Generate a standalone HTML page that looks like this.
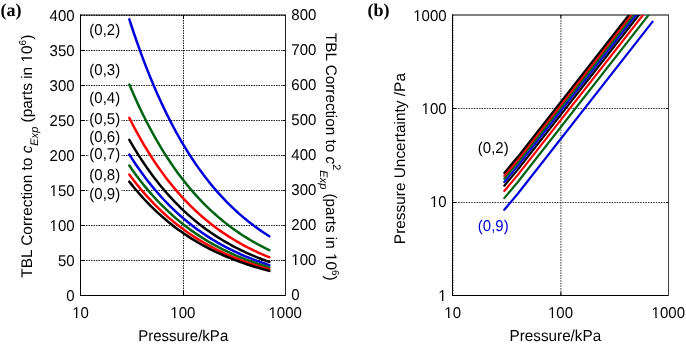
<!DOCTYPE html><html><head><meta charset="utf-8"><style>html,body{margin:0;padding:0;background:#fff;}svg{display:block;will-change:transform;}text{font-family:"Liberation Sans", sans-serif;text-rendering:geometricPrecision;}</style></head><body>
<svg width="686" height="346" viewBox="0 0 686 346">
<rect width="686" height="346" fill="#fff"/>
<path d="M81 260.50H285M81 225.50H285M81 190.50H285M81 155.50H285M81 120.50H285M81 85.50H285M81 50.50H285M81 15.50H285M183.5 15.00V295.00" stroke="#222" stroke-width="1" stroke-dasharray="1.5 1" fill="none"/>
<path d="M80.5 14.5V296M80 295.5H286M80 15H286" fill="none" stroke="#000" stroke-width="1"/>
<path d="M285.5 15V296" fill="none" stroke="#222" stroke-width="1"/>
<path d="M81 260.50h4M285 260.50h-2M81 225.50h4M285 225.50h-2M81 190.50h4M285 190.50h-2M81 155.50h4M285 155.50h-2M81 120.50h4M285 120.50h-2M81 85.50h4M285 85.50h-2M81 50.50h4M285 50.50h-2M183.5 295v-4M183.5 15v4" stroke="#000" stroke-width="1" fill="none"/>
<polyline points="129.33,19.34 131.67,26.51 134.00,33.48 136.33,40.27 138.67,46.89 141.00,53.32 143.33,59.59 145.67,65.70 148.00,71.64 150.34,77.42 152.67,83.05 155.00,88.54 157.34,93.88 159.67,99.08 162.00,104.14 164.34,109.06 166.67,113.86 169.00,118.53 171.34,123.08 173.67,127.51 176.00,131.82 178.34,136.01 180.67,140.10 183.00,144.08 185.34,147.95 187.67,151.72 190.01,155.39 192.34,158.97 194.67,162.45 197.01,165.84 199.34,169.13 201.67,172.35 204.01,175.47 206.34,178.52 208.67,181.48 211.01,184.37 213.34,187.18 215.67,189.91 218.01,192.58 220.34,195.17 222.67,197.69 225.01,200.15 227.34,202.54 229.68,204.87 232.01,207.14 234.34,209.35 236.68,211.50 239.01,213.60 241.34,215.63 243.68,217.62 246.01,219.55 248.34,221.43 250.68,223.26 253.01,225.05 255.34,226.78 257.68,228.47 260.01,230.12 262.35,231.72 264.68,233.28 267.01,234.80 269.35,236.28" fill="none" stroke="#0000dc" stroke-width="2.5" stroke-linejoin="round" stroke-linecap="round"/>
<polyline points="129.33,84.58 131.67,90.05 134.00,95.37 136.33,100.56 138.67,105.61 141.00,110.52 143.33,115.31 145.67,119.96 148.00,124.50 150.34,128.92 152.67,133.22 155.00,137.40 157.34,141.48 159.67,145.44 162.00,149.31 164.34,153.07 166.67,156.73 169.00,160.30 171.34,163.77 173.67,167.15 176.00,170.44 178.34,173.64 180.67,176.76 183.00,179.80 185.34,182.75 187.67,185.63 190.01,188.43 192.34,191.16 194.67,193.82 197.01,196.40 199.34,198.92 201.67,201.37 204.01,203.76 206.34,206.08 208.67,208.35 211.01,210.55 213.34,212.70 215.67,214.78 218.01,216.82 220.34,218.80 222.67,220.72 225.01,222.60 227.34,224.43 229.68,226.20 232.01,227.94 234.34,229.62 236.68,231.26 239.01,232.86 241.34,234.42 243.68,235.93 246.01,237.41 248.34,238.84 250.68,240.24 253.01,241.60 255.34,242.93 257.68,244.22 260.01,245.47 262.35,246.70 264.68,247.89 267.01,249.05 269.35,250.18" fill="none" stroke="#006414" stroke-width="2.5" stroke-linejoin="round" stroke-linecap="round"/>
<polyline points="129.33,117.90 131.67,122.50 134.00,126.99 136.33,131.35 138.67,135.60 141.00,139.73 143.33,143.76 145.67,147.68 148.00,151.50 150.34,155.22 152.67,158.83 155.00,162.36 157.34,165.79 159.67,169.13 162.00,172.38 164.34,175.54 166.67,178.63 169.00,181.63 171.34,184.55 173.67,187.39 176.00,190.16 178.34,192.86 180.67,195.48 183.00,198.04 185.34,200.53 187.67,202.95 190.01,205.31 192.34,207.60 194.67,209.84 197.01,212.02 199.34,214.14 201.67,216.20 204.01,218.21 206.34,220.16 208.67,222.07 211.01,223.92 213.34,225.73 215.67,227.49 218.01,229.20 220.34,230.86 222.67,232.48 225.01,234.06 227.34,235.60 229.68,237.10 232.01,238.56 234.34,239.97 236.68,241.36 239.01,242.70 241.34,244.01 243.68,245.29 246.01,246.53 248.34,247.74 250.68,248.91 253.01,250.06 255.34,251.17 257.68,252.26 260.01,253.32 262.35,254.35 264.68,255.35 267.01,256.32 269.35,257.27" fill="none" stroke="#ff0000" stroke-width="2.5" stroke-linejoin="round" stroke-linecap="round"/>
<polyline points="129.33,139.81 131.67,143.84 134.00,147.77 136.33,151.60 138.67,155.32 141.00,158.94 143.33,162.47 145.67,165.91 148.00,169.25 150.34,172.51 152.67,175.68 155.00,178.77 157.34,181.77 159.67,184.70 162.00,187.55 164.34,190.32 166.67,193.02 169.00,195.65 171.34,198.21 173.67,200.70 176.00,203.13 178.34,205.49 180.67,207.79 183.00,210.03 185.34,212.21 187.67,214.34 190.01,216.40 192.34,218.42 194.67,220.38 197.01,222.28 199.34,224.14 201.67,225.95 204.01,227.71 206.34,229.42 208.67,231.09 211.01,232.72 213.34,234.30 215.67,235.84 218.01,237.34 220.34,238.80 222.67,240.22 225.01,241.60 227.34,242.95 229.68,244.26 232.01,245.54 234.34,246.78 236.68,247.99 239.01,249.17 241.34,250.32 243.68,251.44 246.01,252.52 248.34,253.58 250.68,254.61 253.01,255.62 255.34,256.59 257.68,257.55 260.01,258.47 262.35,259.37 264.68,260.25 267.01,261.11 269.35,261.94" fill="none" stroke="#000000" stroke-width="2.5" stroke-linejoin="round" stroke-linecap="round"/>
<polyline points="129.33,154.51 131.67,158.16 134.00,161.72 136.33,165.18 138.67,168.55 141.00,171.83 143.33,175.02 145.67,178.14 148.00,181.16 150.34,184.11 152.67,186.98 155.00,189.78 157.34,192.50 159.67,195.15 162.00,197.73 164.34,200.24 166.67,202.68 169.00,205.06 171.34,207.38 173.67,209.64 176.00,211.83 178.34,213.97 180.67,216.05 183.00,218.08 185.34,220.06 187.67,221.98 190.01,223.85 192.34,225.67 194.67,227.44 197.01,229.17 199.34,230.85 201.67,232.49 204.01,234.08 206.34,235.63 208.67,237.15 211.01,238.62 213.34,240.05 215.67,241.44 218.01,242.80 220.34,244.12 222.67,245.41 225.01,246.66 227.34,247.88 229.68,249.07 232.01,250.22 234.34,251.35 236.68,252.45 239.01,253.51 241.34,254.55 243.68,255.56 246.01,256.55 248.34,257.51 250.68,258.44 253.01,259.35 255.34,260.23 257.68,261.09 260.01,261.93 262.35,262.75 264.68,263.54 267.01,264.32 269.35,265.07" fill="none" stroke="#0000dc" stroke-width="2.5" stroke-linejoin="round" stroke-linecap="round"/>
<polyline points="129.33,165.57 131.67,168.93 134.00,172.21 136.33,175.40 138.67,178.50 141.00,181.53 143.33,184.47 145.67,187.34 148.00,190.13 150.34,192.84 152.67,195.49 155.00,198.06 157.34,200.57 159.67,203.01 162.00,205.38 164.34,207.70 166.67,209.95 169.00,212.14 171.34,214.28 173.67,216.36 176.00,218.38 178.34,220.35 180.67,222.27 183.00,224.14 185.34,225.96 187.67,227.73 190.01,229.45 192.34,231.13 194.67,232.76 197.01,234.35 199.34,235.90 201.67,237.41 204.01,238.88 206.34,240.31 208.67,241.70 211.01,243.05 213.34,244.37 215.67,245.66 218.01,246.91 220.34,248.13 222.67,249.31 225.01,250.47 227.34,251.59 229.68,252.68 232.01,253.75 234.34,254.79 236.68,255.80 239.01,256.78 241.34,257.74 243.68,258.67 246.01,259.57 248.34,260.46 250.68,261.32 253.01,262.15 255.34,262.97 257.68,263.76 260.01,264.54 262.35,265.29 264.68,266.02 267.01,266.73 269.35,267.43" fill="none" stroke="#006414" stroke-width="2.5" stroke-linejoin="round" stroke-linecap="round"/>
<polyline points="129.33,174.60 131.67,177.73 134.00,180.78 136.33,183.74 138.67,186.63 141.00,189.44 143.33,192.18 145.67,194.85 148.00,197.44 150.34,199.97 152.67,202.43 155.00,204.82 157.34,207.16 159.67,209.43 162.00,211.64 164.34,213.79 166.67,215.88 169.00,217.92 171.34,219.91 173.67,221.84 176.00,223.73 178.34,225.56 180.67,227.34 183.00,229.08 185.34,230.77 187.67,232.42 190.01,234.02 192.34,235.58 194.67,237.10 197.01,238.58 199.34,240.03 201.67,241.43 204.01,242.79 206.34,244.12 208.67,245.42 211.01,246.68 213.34,247.91 215.67,249.10 218.01,250.26 220.34,251.40 222.67,252.50 225.01,253.57 227.34,254.62 229.68,255.64 232.01,256.63 234.34,257.59 236.68,258.53 239.01,259.44 241.34,260.34 243.68,261.20 246.01,262.05 248.34,262.87 250.68,263.67 253.01,264.45 255.34,265.20 257.68,265.94 260.01,266.66 262.35,267.36 264.68,268.04 267.01,268.71 269.35,269.35" fill="none" stroke="#ff0000" stroke-width="2.5" stroke-linejoin="round" stroke-linecap="round"/>
<polyline points="129.33,181.67 131.67,184.62 134.00,187.48 136.33,190.28 138.67,192.99 141.00,195.64 143.33,198.22 145.67,200.73 148.00,203.17 150.34,205.55 152.67,207.86 155.00,210.12 157.34,212.31 159.67,214.45 162.00,216.53 164.34,218.56 166.67,220.53 169.00,222.45 171.34,224.32 173.67,226.14 176.00,227.91 178.34,229.64 180.67,231.32 183.00,232.95 185.34,234.54 187.67,236.09 190.01,237.60 192.34,239.07 194.67,240.50 197.01,241.90 199.34,243.25 201.67,244.57 204.01,245.86 206.34,247.11 208.67,248.33 211.01,249.52 213.34,250.67 215.67,251.80 218.01,252.89 220.34,253.96 222.67,255.00 225.01,256.01 227.34,256.99 229.68,257.95 232.01,258.88 234.34,259.79 236.68,260.67 239.01,261.53 241.34,262.37 243.68,263.19 246.01,263.98 248.34,264.75 250.68,265.51 253.01,266.24 255.34,266.95 257.68,267.65 260.01,268.33 262.35,268.98 264.68,269.63 267.01,270.25 269.35,270.86" fill="none" stroke="#000000" stroke-width="2.5" stroke-linejoin="round" stroke-linecap="round"/>
<path d="M453 202.5H668M453 108.5H668M560.9 15V295" stroke="#333" stroke-width="1" stroke-dasharray="1.5 1.1" fill="none"/>
<path d="M453.5 15V295" fill="none" stroke="#999" stroke-width="1" stroke-dasharray="1 1.5"/>
<path d="M452.5 14.5V296M452 295.5H669M452 15H669" fill="none" stroke="#000" stroke-width="1"/>
<path d="M668.5 15V296" fill="none" stroke="#444" stroke-width="1"/>
<path d="M453 202.5h3M668 202.5h-2M453 108.5h3M668 108.5h-2M560.9 295v-3M560.9 15v3" stroke="#000" stroke-width="1" fill="none"/>
<clipPath id="cb"><rect x="452.70" y="15.00" width="215.60" height="280.00"/></clipPath>
<g clip-path="url(#cb)" stroke-width="2.2" fill="none" stroke-linecap="round">
<polyline points="504.30,209.80 517.60,193.96 652.60,21.57" stroke="#0000dc" stroke-linejoin="round"/>
<polyline points="504.30,198.10 517.60,182.26 652.60,9.87" stroke="#006414" stroke-linejoin="round"/>
<polyline points="504.30,191.00 517.60,175.16 652.60,2.77" stroke="#ff0000" stroke-linejoin="round"/>
<polyline points="504.30,185.70 517.60,169.86 652.60,-2.53" stroke="#000000" stroke-linejoin="round"/>
<polyline points="504.30,182.00 517.60,166.16 652.60,-6.23" stroke="#0000dc" stroke-linejoin="round"/>
<polyline points="504.30,178.70 517.60,162.86 652.60,-9.53" stroke="#006414" stroke-linejoin="round"/>
<polyline points="504.30,175.90 517.60,160.06 652.60,-12.33" stroke="#ff0000" stroke-linejoin="round"/>
<polyline points="504.30,172.90 517.60,157.06 652.60,-15.33" stroke="#000000" stroke-linejoin="round"/>
</g>
<g font-size="15" fill="#000"><text transform="translate(74.60 301.20) scale(1 1.040)" text-anchor="end" >0</text><text transform="translate(74.60 266.20) scale(1 1.040)" text-anchor="end" >50</text><text transform="translate(74.60 231.20) scale(1 1.040)" text-anchor="end" >100</text><text transform="translate(74.60 196.20) scale(1 1.040)" text-anchor="end" >150</text><text transform="translate(74.60 161.20) scale(1 1.040)" text-anchor="end" >200</text><text transform="translate(74.60 126.20) scale(1 1.040)" text-anchor="end" >250</text><text transform="translate(74.60 91.20) scale(1 1.040)" text-anchor="end" >300</text><text transform="translate(74.60 56.20) scale(1 1.040)" text-anchor="end" >350</text><text transform="translate(74.60 21.20) scale(1 1.040)" text-anchor="end" >400</text><text transform="translate(291.30 300.30) scale(1 1.040)" text-anchor="start" >0</text><text transform="translate(291.30 265.30) scale(1 1.040)" text-anchor="start" >100</text><text transform="translate(291.30 230.30) scale(1 1.040)" text-anchor="start" >200</text><text transform="translate(291.30 195.30) scale(1 1.040)" text-anchor="start" >300</text><text transform="translate(291.30 160.30) scale(1 1.040)" text-anchor="start" >400</text><text transform="translate(291.30 125.30) scale(1 1.040)" text-anchor="start" >500</text><text transform="translate(291.30 90.30) scale(1 1.040)" text-anchor="start" >600</text><text transform="translate(291.30 55.30) scale(1 1.040)" text-anchor="start" >700</text><text transform="translate(291.30 20.30) scale(1 1.040)" text-anchor="start" >800</text><text transform="translate(80.50 317.80) scale(1 1.040)" text-anchor="middle" >10</text><text transform="translate(452.70 317.80) scale(1 1.040)" text-anchor="middle" >10</text><text transform="translate(182.85 317.80) scale(1 1.040)" text-anchor="middle" >100</text><text transform="translate(560.50 317.80) scale(1 1.040)" text-anchor="middle" >100</text><text transform="translate(285.20 317.80) scale(1 1.040)" text-anchor="middle" >1000</text><text transform="translate(668.30 317.80) scale(1 1.040)" text-anchor="middle" >1000</text><text transform="translate(183.20 340.80) scale(1 1.040)" text-anchor="middle" >Pressure/kPa</text><text transform="translate(555.35 340.80) scale(1 1.040)" text-anchor="middle" font-size="15.25">Pressure/kPa</text><text transform="translate(446.60 300.80) scale(1 1.040)" text-anchor="end" >1</text><text transform="translate(446.60 207.47) scale(1 1.040)" text-anchor="end" >10</text><text transform="translate(446.60 114.13) scale(1 1.040)" text-anchor="end" >100</text><text transform="translate(446.60 20.80) scale(1 1.040)" text-anchor="end" >1000</text><rect x="88.5" y="23.50" width="33" height="13" fill="#fff"/><text transform="translate(89.30 35.00) scale(1 1.040)" text-anchor="start" >(0,2)</text><rect x="88.5" y="63.30" width="33" height="13" fill="#fff"/><text transform="translate(89.30 74.80) scale(1 1.040)" text-anchor="start" >(0,3)</text><rect x="88.5" y="91.60" width="33" height="13" fill="#fff"/><text transform="translate(89.30 103.10) scale(1 1.040)" text-anchor="start" >(0,4)</text><rect x="88.5" y="112.40" width="33" height="13" fill="#fff"/><text transform="translate(89.30 123.90) scale(1 1.040)" text-anchor="start" >(0,5)</text><rect x="88.5" y="130.50" width="33" height="13" fill="#fff"/><text transform="translate(89.30 142.00) scale(1 1.040)" text-anchor="start" >(0,6)</text><rect x="88.5" y="147.90" width="33" height="13" fill="#fff"/><text transform="translate(89.30 159.40) scale(1 1.040)" text-anchor="start" >(0,7)</text><rect x="88.5" y="168.30" width="33" height="13" fill="#fff"/><text transform="translate(89.30 179.80) scale(1 1.040)" text-anchor="start" >(0,8)</text><rect x="88.5" y="187.90" width="33" height="13" fill="#fff"/><text transform="translate(89.30 199.40) scale(1 1.040)" text-anchor="start" >(0,9)</text><text transform="translate(477.80 153.20) scale(1 1.040)" text-anchor="start" >(0,2)</text><text transform="translate(477.80 231.40) scale(1 1.040)" text-anchor="start" fill="#0000dc">(0,9)</text><text transform="translate(32.1 156.2) rotate(-90)" text-anchor="middle" font-size="15.4">TBL Correction to <tspan font-style="italic">c</tspan><tspan font-style="italic" font-size="11" dy="6.3">Exp</tspan><tspan dy="-6.3"> (parts in 10</tspan><tspan font-size="10" dy="-5.8">6</tspan><tspan dy="5.8">)</tspan></text><text transform="translate(326 156.85) rotate(90)" text-anchor="middle" font-size="15.3">TBL Correction to <tspan font-style="italic">c</tspan><tspan font-size="11" dy="-6.5">2</tspan><tspan font-style="italic" font-size="11" dy="13">Exp</tspan><tspan dy="-6.5"> (parts in 10</tspan><tspan font-size="10" dy="-5.8">6</tspan><tspan dy="5.8">)</tspan></text><text transform="translate(404.5 158.6) rotate(-90)" text-anchor="middle" font-size="15.4">Pressure Uncertainty /Pa</text></g>
<path d="M50.01 229.10H53.27V232.20H50.01ZM54.74 229.10H57.78V232.20H54.74ZM50.01 194.10H53.27V197.20H50.01ZM54.74 194.10H57.78V197.20H54.74ZM291.74 263.20H295.00V266.30H291.74ZM296.47 263.20H299.50V266.30H296.47ZM72.60 315.70H75.86V318.80H72.60ZM77.33 315.70H80.36V318.80H77.33ZM444.80 315.70H448.06V318.80H444.80ZM449.53 315.70H452.56V318.80H449.53ZM170.78 315.70H174.04V318.80H170.78ZM175.51 315.70H178.54V318.80H175.51ZM548.43 315.70H551.69V318.80H548.43ZM553.16 315.70H556.19V318.80H553.16ZM268.95 315.70H272.21V318.80H268.95ZM273.69 315.70H276.72V318.80H273.69ZM652.05 315.70H655.31V318.80H652.05ZM656.79 315.70H659.82V318.80H656.79ZM438.70 298.70H441.96V301.80H438.70ZM443.43 298.70H446.46V301.80H443.43ZM430.35 205.37H433.61V208.47H430.35ZM435.09 205.37H438.12V208.47H435.09ZM422.01 112.03H425.27V115.13H422.01ZM426.74 112.03H429.78V115.13H426.74ZM413.67 18.70H416.93V21.80H413.67ZM418.40 18.70H421.43V21.80H418.40Z" fill="#fff"/>
<path transform="translate(32.1 156.2) rotate(-90)" d="M94.09 -2.1H97.44V1H94.09ZM98.95 -2.1H102.06V1H98.95Z" fill="#fff"/>
<path transform="translate(326 156.85) rotate(90)" d="M96.63 -2.1H99.95V1H96.63ZM101.45 -2.1H104.55V1H101.45Z" fill="#fff"/>
<text x="0.5" y="15.5" style="font-family:'Liberation Serif', serif;font-weight:bold;font-size:18px">(a)</text>
<text x="367.6" y="15.7" style="font-family:'Liberation Serif', serif;font-weight:bold;font-size:18px">(b)</text>
</svg></body></html>
